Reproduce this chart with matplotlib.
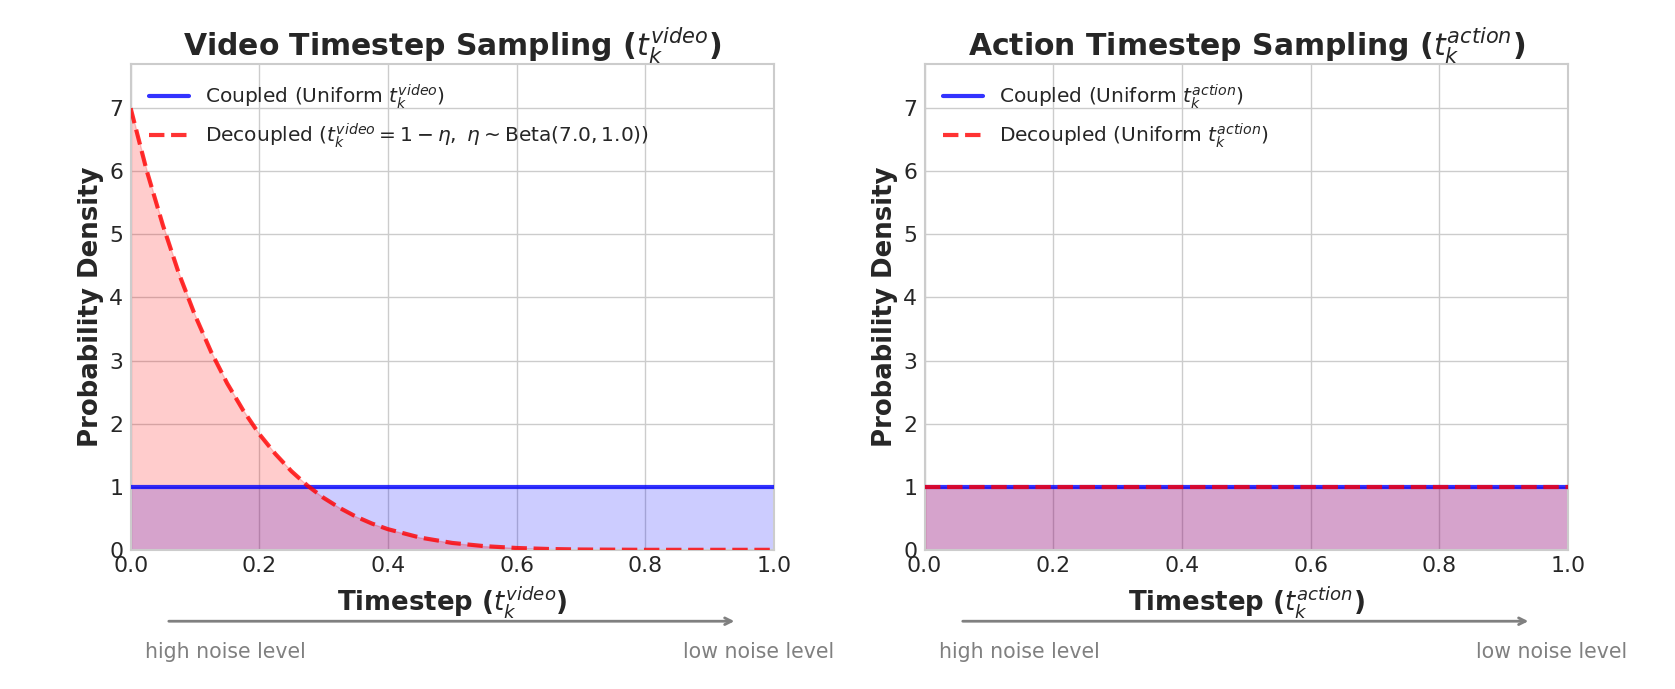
import matplotlib
matplotlib.use("Agg")
import matplotlib.pyplot as plt
import seaborn as sns

sns.set_theme(style="whitegrid")
plt.rcParams['font.family'] = ['DejaVu Sans']

# ---- data ----
t_video = [0.0, 0.025, 0.05, 0.075, 0.1, 0.125, 0.15, 0.175, 0.2, 0.225, 0.25,
           0.275, 0.3, 0.325, 0.35, 0.375, 0.4, 0.45, 0.5, 0.55, 0.6, 0.65,
           0.7, 0.8, 0.9, 1.0]
dens_video_decoupled = [7.00, 6.01, 5.15, 4.38, 3.72, 3.14, 2.64, 2.21, 1.835, 1.52,
                        1.246, 1.017, 0.824, 0.664, 0.528, 0.417, 0.327, 0.194,
                        0.109, 0.058, 0.029, 0.013, 0.005, 0.0, 0.0, 0.0]
t_uniform = [0.0, 1.0]
dens_uniform = [1.0, 1.0]
dens_action_decoupled = [1.0, 1.0]

yticks = [0, 1, 2, 3, 4, 5, 6, 7]
xticks = [0.0, 0.2, 0.4, 0.6, 0.8, 1.0]

titles = [r"Video Timestep Sampling ($t_k^{video}$)",
          r"Action Timestep Sampling ($t_k^{action}$)"]
xlabels = [r"Timestep ($t_k^{video}$)", r"Timestep ($t_k^{action}$)"]
coupled_labels = [r"Coupled (Uniform $t_k^{video}$)", r"Coupled (Uniform $t_k^{action}$)"]
decoupled_labels = [r"Decoupled ($t_k^{video} = 1 - \eta,\ \eta \sim \mathrm{Beta}(7.0, 1.0)$)",
                    r"Decoupled (Uniform $t_k^{action}$)"]

fig = plt.figure(figsize=(16.75, 6.89), dpi=100)
ax1 = fig.add_axes([0.078, 0.202, 0.384, 0.705])
ax2 = fig.add_axes([0.552, 0.202, 0.384, 0.705])

series = [(t_video, dens_video_decoupled), (t_uniform, dens_action_decoupled)]

for ax, title, xl, cl, dl, (xd, yd) in zip([ax1, ax2], titles, xlabels,
                                           coupled_labels, decoupled_labels, series):
    ax.plot(t_uniform, dens_uniform, color='blue', alpha=0.8, lw=3, label=cl, zorder=3)
    ax.fill_between(t_uniform, dens_uniform, color='blue', alpha=0.2, lw=0, zorder=2)
    ax.plot(xd, yd, color='red', alpha=0.8, lw=3, ls='--', label=dl, zorder=4)
    ax.fill_between(xd, yd, color='red', alpha=0.2, zorder=2)
    ax.set_xlim(0, 1)
    ax.set_ylim(0, 7.7)
    ax.set_xticks(xticks)
    ax.set_yticks(yticks)
    ax.tick_params(axis='x', labelsize=15.8, length=0, pad=4.5)
    ax.tick_params(axis='y', labelsize=15.8, length=0, pad=5.3)
    ax.set_title(title, fontsize=21.5, fontweight='bold', pad=6)
    ax.set_xlabel(xl, fontsize=18.7, fontweight='bold', labelpad=6)
    ax.set_ylabel("Probability Density", fontsize=18.7, fontweight='bold', labelpad=4)
    ax.legend(loc='upper left', fontsize=14.5, frameon=False, labelspacing=0.5)
    for s in ax.spines.values():
        s.set_color('#cccccc')
        s.set_linewidth(1.5)
    ax.annotate('', xy=(0.943, -0.147), xytext=(0.055, -0.147), xycoords='axes fraction',
                arrowprops=dict(arrowstyle='->', color='gray', lw=2), annotation_clip=False)
    ax.text(0.022, -0.21, "high noise level", transform=ax.transAxes, ha='left', va='center',
            fontsize=14.8, color='gray')
    ax.text(1.093, -0.21, "low noise level", transform=ax.transAxes, ha='right', va='center',
            fontsize=14.8, color='gray')

fig.savefig("out.png", dpi=100)
